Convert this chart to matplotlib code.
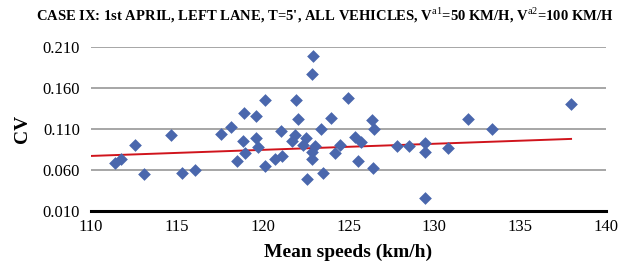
import numpy as np
import matplotlib
matplotlib.use("Agg")
import matplotlib.pyplot as plt

# data
speeds = [111.40, 111.73, 112.56, 113.09, 114.68, 115.28, 116.04, 117.57, 118.15, 118.49,
          118.87, 118.93, 118.97, 119.59, 119.59, 119.73, 120.12, 120.15, 120.73, 121.05,
          121.12, 121.69, 121.88, 121.96, 122.04, 122.37, 122.50, 122.60, 122.85, 122.87,
          122.95, 122.89, 123.05, 123.38, 123.50, 123.98, 124.21, 124.53, 124.95, 125.40,
          125.72, 125.57, 126.35, 126.48, 126.44, 127.84, 128.54, 129.45, 129.45, 129.45,
          130.81, 131.96, 133.36, 137.96]
cv = [0.0686, 0.0727, 0.0897, 0.0549, 0.1019, 0.0565, 0.0598, 0.1038, 0.1120, 0.0710,
      0.0950, 0.1286, 0.0804, 0.1260, 0.0994, 0.0880, 0.1450, 0.0650, 0.0730, 0.1075,
      0.0768, 0.0950, 0.1030, 0.1450, 0.1225, 0.0900, 0.0990, 0.0485, 0.0820, 0.0727,
      0.1985, 0.1760, 0.0890, 0.1095, 0.0565, 0.1237, 0.0810, 0.0900, 0.1480, 0.0997,
      0.0937, 0.0707, 0.1210, 0.1095, 0.0626, 0.0890, 0.0889, 0.0929, 0.0820, 0.0260,
      0.0868, 0.1225, 0.1100, 0.1400]

# linear trend line, end values
trend_speeds = [110.0, 137.96]
trend_cv = [0.0770, 0.0977]

x_ticks = [110, 115, 120, 125, 130, 135, 140]
y_ticks = [0.010, 0.060, 0.110, 0.160, 0.210]

plt.rcParams['font.family'] = ['Liberation Serif', 'DejaVu Serif']
plt.rcParams['mathtext.fontset'] = 'custom'
plt.rcParams['mathtext.rm'] = 'Liberation Serif'

fig = plt.figure(figsize=(6.21, 2.72), dpi=100)
ax = fig.add_axes([0.1465, 0.224, 0.8295, 0.605])

ax.plot(trend_speeds, trend_cv, color='#d0141c', lw=1.4, zorder=2)
ax.scatter(speeds, cv, marker='D', s=42, color='#4a67ad', zorder=3, linewidths=0)

ax.set_xlim(110, 140)
ax.set_ylim(0.010, 0.210)
ax.set_xticks(x_ticks)
ax.set_yticks(y_ticks)
ax.set_yticklabels([f"{v:.3f}" for v in y_ticks])
ax.tick_params(axis='both', length=0, labelsize=12)
ax.tick_params(axis='x', pad=6)
ax.tick_params(axis='y', pad=8)
ax.grid(axis='y', color='#a6a6a6', lw=1.4)
ax.set_axisbelow(True)
for s in ['left', 'right', 'top']:
    ax.spines[s].set_visible(False)
ax.spines['bottom'].set_linewidth(2.2)
ax.spines['bottom'].set_color('black')

ax.set_xlabel("Mean speeds (km/h)", fontsize=14, fontweight='bold', labelpad=6)
ax.set_ylabel("CV", fontsize=14, fontweight='bold', labelpad=8)

fig.text(0.523, 0.945,
         r"CASE IX: 1st APRIL, LEFT LANE, T=5', ALL VEHICLES, V$^{\rm a1}$=50 KM/H, V$^{\rm a2}$=100 KM/H",
         ha='center', va='center', fontsize=10.5, fontweight='bold')

fig.savefig("out.png", dpi=100)
